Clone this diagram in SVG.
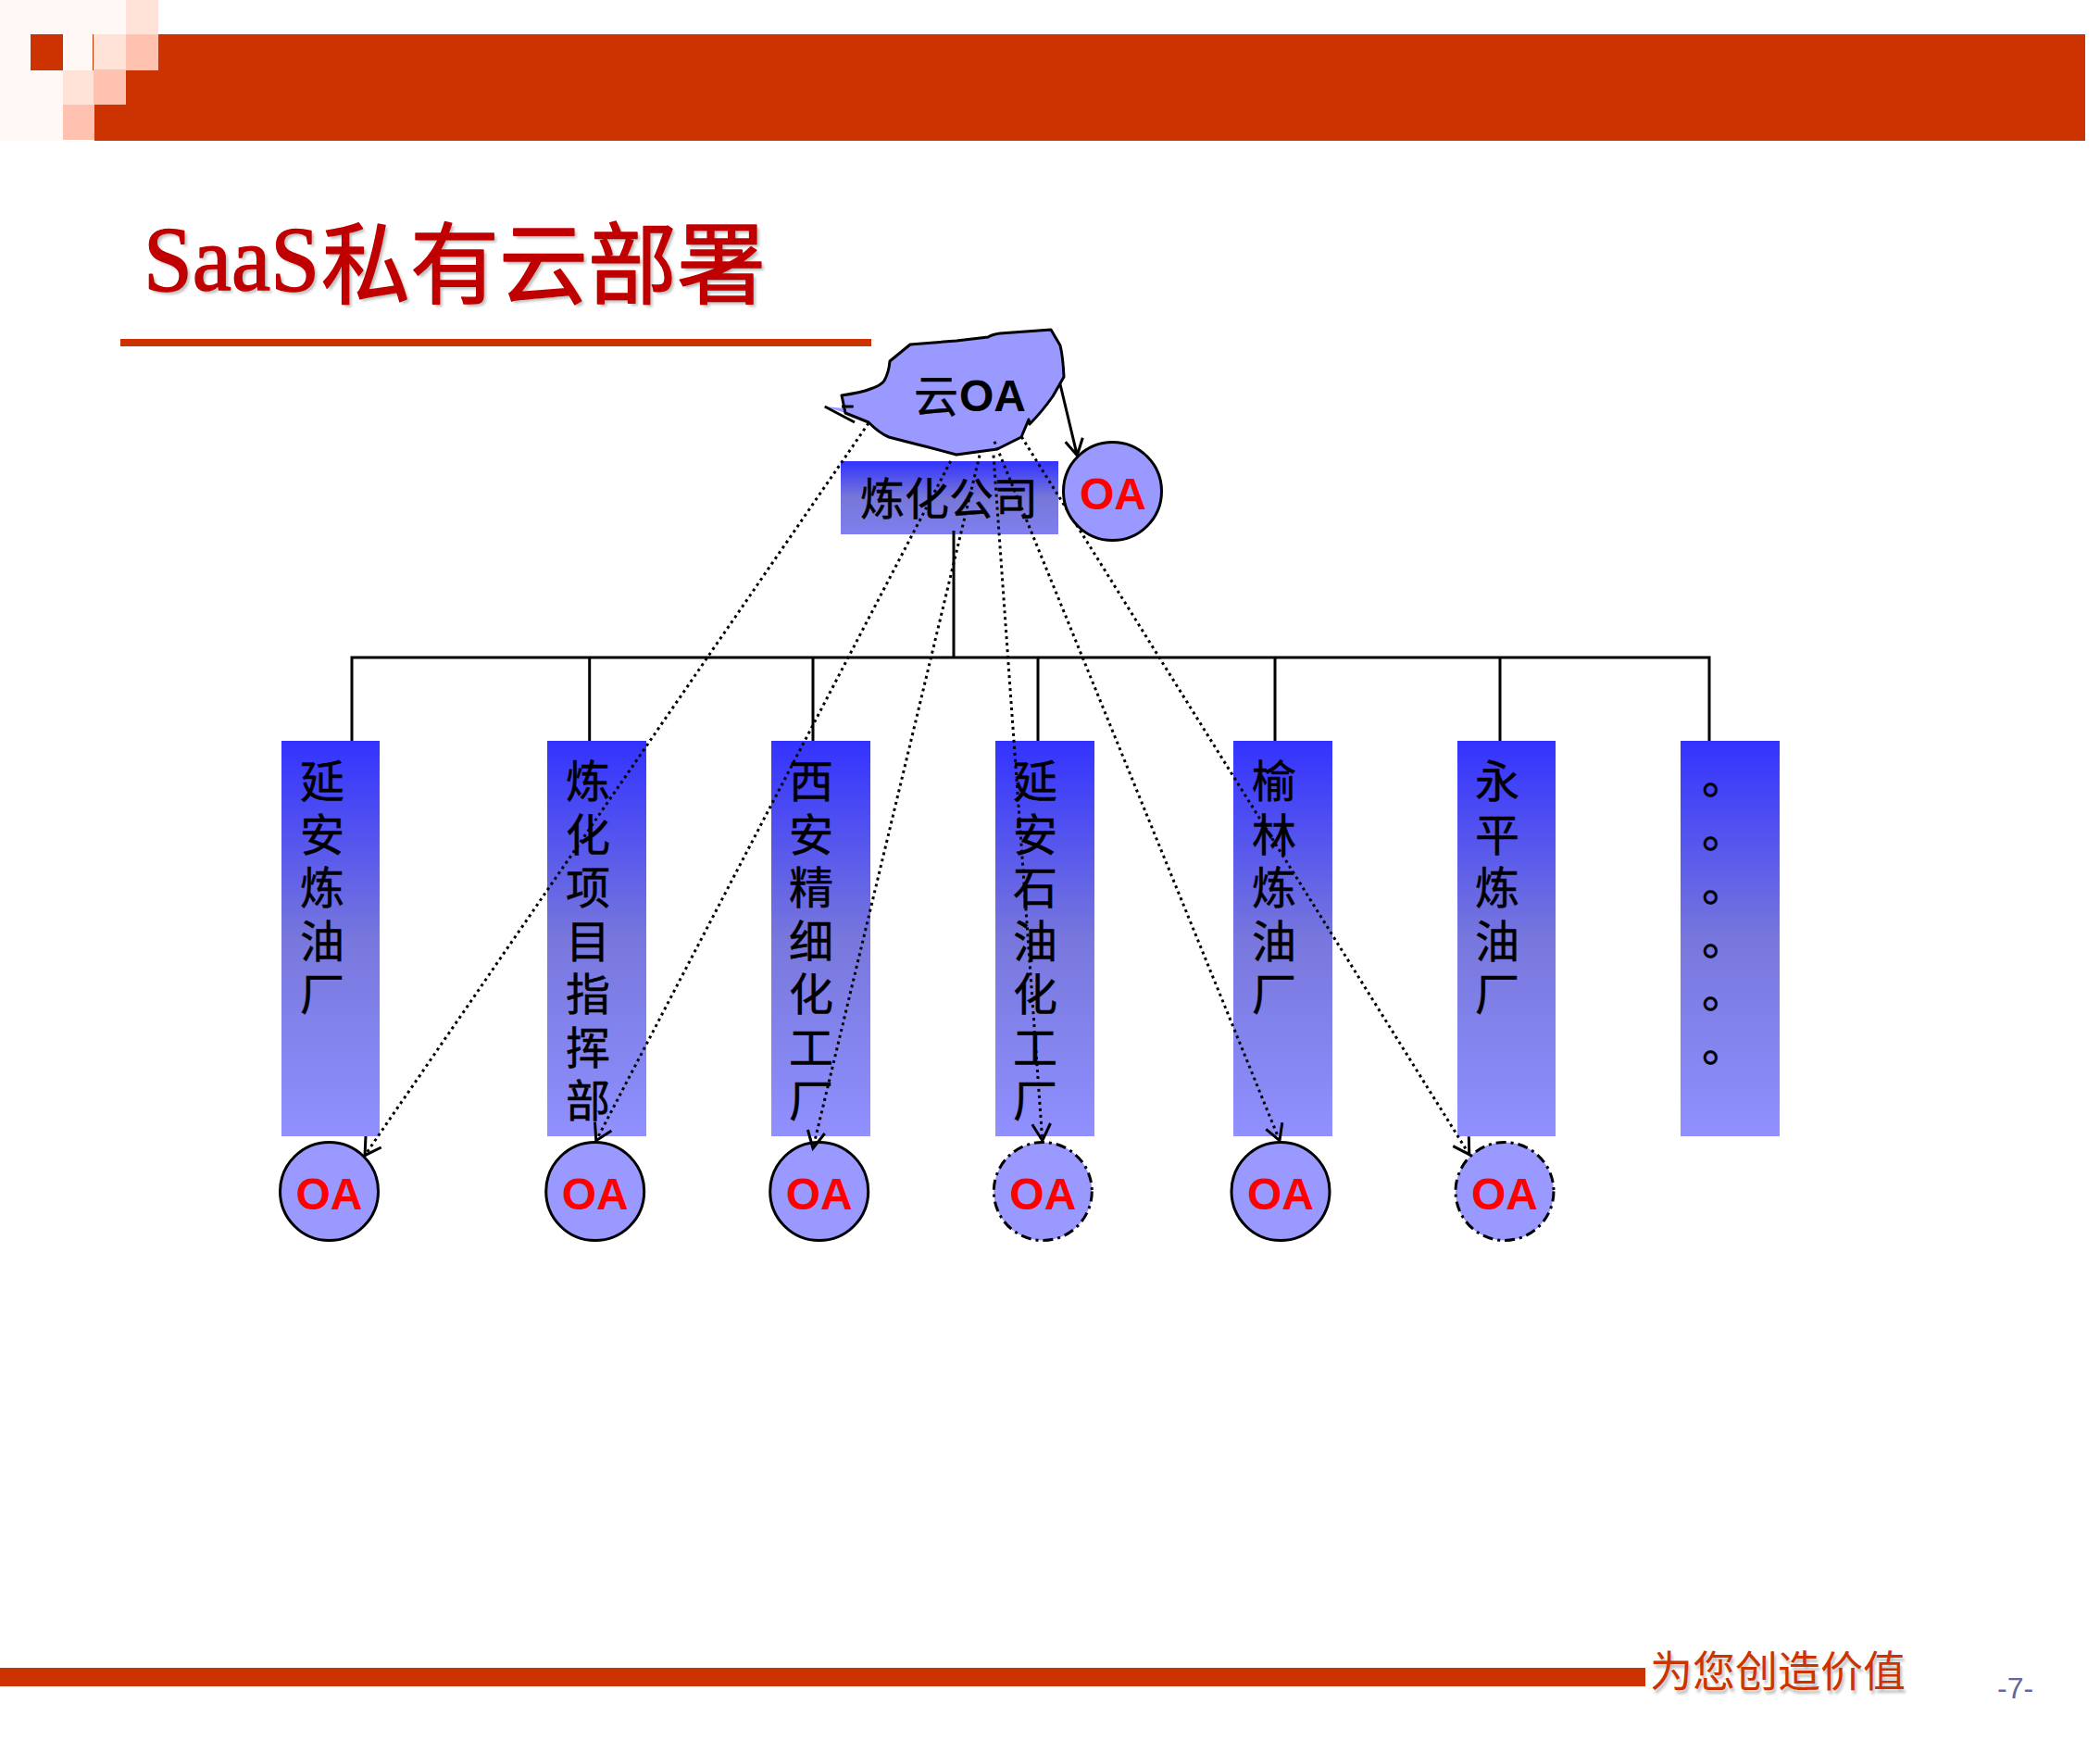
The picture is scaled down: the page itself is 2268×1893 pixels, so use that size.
<svg xmlns="http://www.w3.org/2000/svg" width="2268" height="1893" viewBox="0 0 2268 1893">
<style>
.red{fill:#cc3300}
.p1{fill:#fff8f4}.p2{fill:#ffe2d8}.p3{fill:#ffc2b0}
.bar{fill:url(#g)}
.bar2{fill:url(#g2)}
.cn{font-family:"Noto Sans CJK SC","Noto Sans",sans-serif;font-size:48px;fill:#000;stroke:#000;stroke-width:.5}
.cv{text-anchor:middle}
.oa{font-family:"Liberation Sans",Arial,sans-serif;font-weight:700;font-size:48px;fill:#f00;text-anchor:middle}
.c{fill:#9999ff;stroke:#000;stroke-width:3}
.d{stroke-dasharray:11 5 3 5}
.t{fill:none;stroke:#000;stroke-width:3}
.dot{fill:none;stroke:#000;stroke-width:3;stroke-dasharray:3 4}
.ar{fill:none;stroke:#000;stroke-width:3}
.shadow{fill:#000;opacity:.25}
.ttl{fill:#c00000;stroke:#c00000;stroke-width:1.5;stroke-linejoin:round}
</style>
<defs>
<linearGradient id="g" x1="0" y1="0" x2="0" y2="1"><stop offset="0" stop-color="#3333ff"/><stop offset=".5" stop-color="#7777dd"/><stop offset="1" stop-color="#9090ff"/></linearGradient>
<linearGradient id="g2" x1="0" y1="0" x2="0" y2="1"><stop offset="0" stop-color="#3333ff"/><stop offset=".5" stop-color="#7777d8"/><stop offset="1" stop-color="#7f7ff0"/></linearGradient>
<filter id="b" x="-5%" y="-20%" width="110%" height="140%"><feGaussianBlur stdDeviation="1.5"/></filter>
</defs>
<g id="header">
<rect class="red" x="171" y="37" width="2081" height="115"/>
<rect class="red" x="136" y="76" width="36" height="76"/>
<rect class="red" x="102" y="113" width="34" height="39"/>
<rect class="p1" x="0" y="0" width="136" height="37"/>
<rect class="p1" x="0" y="37" width="33" height="39"/>
<rect class="red" x="33" y="37" width="35" height="39"/>
<rect class="p1" x="68" y="37" width="32" height="39"/>
<rect class="red" x="100" y="37" width="1" height="39"/>
<rect class="p1" x="0" y="76" width="68" height="76"/>
<rect class="p2" x="136" y="0" width="35" height="37"/>
<rect class="p2" x="101" y="37" width="35" height="39"/>
<rect class="p2" x="68" y="76" width="33" height="37"/>
<rect class="p3" x="136" y="37" width="35" height="39"/>
<rect class="p3" x="101" y="75" width="35" height="38"/>
<rect class="p3" x="68" y="113" width="34" height="38"/>
</g>
<g id="title">
<g font-family="Liberation Serif,serif" font-size="100" class="shadow" filter="url(#b)" transform="translate(3 3)"><text x="155" y="313" textLength="190" lengthAdjust="spacingAndGlyphs">SaaS</text><text x="347" y="320" font-family="Noto Sans CJK SC,sans-serif" font-size="96">私有云部署</text></g>
<text class="ttl" x="155" y="313" textLength="190" lengthAdjust="spacingAndGlyphs" font-family="Liberation Serif,serif" font-size="100">SaaS</text>
<text class="ttl" x="347" y="320" font-family="Noto Sans CJK SC,sans-serif" font-size="96">私有云部署</text>
<rect class="red" x="130" y="366" width="811" height="8"/>
</g>
<g id="footer">
<rect class="red" x="0" y="1801" width="1777" height="20"/>
<text x="1782" y="1823" transform="translate(2 2)" font-family="Noto Sans CJK SC,sans-serif" font-size="46" class="shadow" filter="url(#b)">为您创造价值</text>
<text x="1782" y="1821" font-family="Noto Sans CJK SC,sans-serif" font-size="46" fill="#cc3300">为您创造价值</text>
<text x="2157" y="1834" font-family="Liberation Sans,Arial,sans-serif" font-size="32" fill="#666699">-7-</text>
</g>
<g id="company"><rect class="bar2" x="908" y="498" width="235" height="79"/><text class="cn" x="929" y="556">炼化公司</text></g>
<g id="box1"><rect class="bar" x="304" y="800" width="106" height="427"/><text class="cn cv" x="348 348 348 348 348" y="861 918.5 976 1033.5 1091">延安炼油厂</text></g>
<g id="box2"><rect class="bar" x="591" y="800" width="107" height="427"/><text class="cn cv" x="635 635 635 635 635 635 635" y="861 918.5 976 1033.5 1091 1148.5 1206">炼化项目指挥部</text></g>
<g id="box3"><rect class="bar" x="833" y="800" width="107" height="427"/><text class="cn cv" x="876 876 876 876 876 876 876" y="861 918.5 976 1033.5 1091 1148.5 1206">西安精细化工厂</text></g>
<g id="box4"><rect class="bar" x="1075" y="800" width="107" height="427"/><text class="cn cv" x="1118 1118 1118 1118 1118 1118 1118" y="861 918.5 976 1033.5 1091 1148.5 1206">延安石油化工厂</text></g>
<g id="box5"><rect class="bar" x="1332" y="800" width="107" height="427"/><text class="cn cv" x="1376 1376 1376 1376 1376" y="861 918.5 976 1033.5 1091">榆林炼油厂</text></g>
<g id="box6"><rect class="bar" x="1574" y="800" width="106" height="427"/><text class="cn cv" x="1617 1617 1617 1617 1617" y="861 918.5 976 1033.5 1091">永平炼油厂</text></g>
<g id="box7"><rect class="bar" x="1815" y="800" width="107" height="427"/><text class="cn" x="1838 1838 1838 1838 1838 1838" y="857 915 973 1030.5 1088 1145.5">。。。。。。</text></g>
<g id="oa1"><circle class="c" cx="355.5" cy="1286.5" r="53"/><text class="oa" x="355.5" y="1306">OA</text></g>
<g id="oa2"><circle class="c" cx="642.7" cy="1286.5" r="53"/><text class="oa" x="642.7" y="1306">OA</text></g>
<g id="oa3"><circle class="c" cx="884.7" cy="1286.5" r="53"/><text class="oa" x="884.7" y="1306">OA</text></g>
<g id="oa4"><circle class="c d" cx="1126.3" cy="1286.5" r="53"/><text class="oa" x="1126.3" y="1306">OA</text></g>
<g id="oa5"><circle class="c" cx="1383" cy="1286.5" r="53"/><text class="oa" x="1383" y="1306">OA</text></g>
<g id="oa6"><circle class="c d" cx="1625" cy="1286.5" r="53"/><text class="oa" x="1625" y="1306">OA</text></g>
<g id="cloud">
<polygon points="891,439 912,441 916,447" fill="#9999ff"/>
<path class="c" stroke-linejoin="round" d="M909 427 Q930 424 940 420 Q952 416 955 411 Q960 402 961 390 L983 372 L1033 368 L1067 364 Q1072 361 1080 360 L1135 356 L1145 373 Q1148 385 1149 407 L1137 428 Q1125 445 1112 458 L1111 453 L1103 472 L1077 485 L1033 491 L1003 483 Q975 476 960 472 Q950 468 938 456 L913 446 Z"/>
<text class="cn" x="987" y="445">云</text>
<text font-family="Liberation Sans,Arial,sans-serif" font-weight="700" font-size="48" x="1036" y="444">OA</text>
</g>
<g id="connectors">
<path class="t" d="M1030 573V710M380 800V710H1846V800M636.7 710V800M878 710V800M1121 710V800M1377 710V800M1620 710V800"/>
<path class="ar" d="M1145 415L1163.3 491.7M1150.7 477.3L1163.3 491.7L1169.3 472.7"/>
<path class="dot" d="M938 457L394 1247.7M1026.7 498L643.8 1231.7M1058 491.7L878 1240M1073 491.7L1125.8 1231.7M1074 476.7L1382 1231.7M1103.3 471.7L1586.8 1246.7"/>
<path class="ar" d="M890.7 439L923 456M909 439H921.7M395 1227L394 1247.7L411.7 1239M642.5 1211.7L643.8 1231.7L660.4 1221M872.4 1220L878 1240L890.7 1224M1114.8 1214.3L1125.8 1231.7L1134.5 1213M1367.3 1219.3L1382 1231.7L1384.8 1212.3M1569.3 1237.7L1586.8 1246.7L1586.3 1227.3"/>
</g>
<g id="oa-top"><circle class="c" cx="1201.5" cy="530.5" r="53"/><text class="oa" x="1202" y="550">OA</text></g>
</svg>
